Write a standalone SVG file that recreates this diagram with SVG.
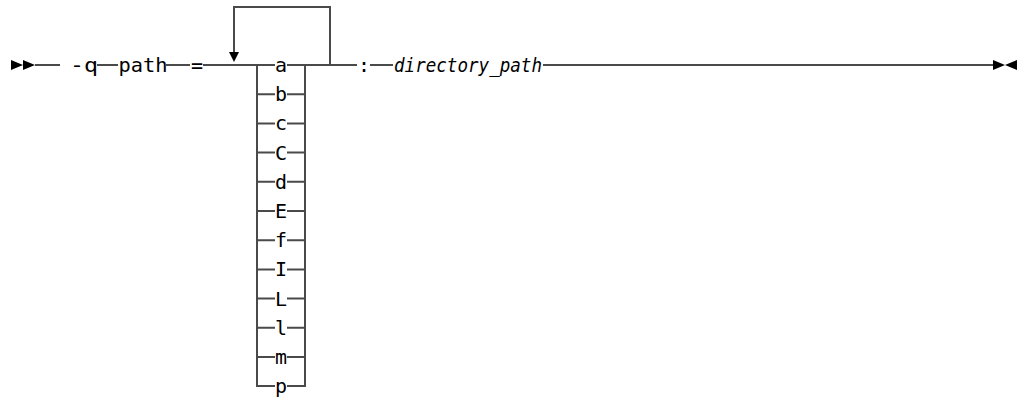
<svg xmlns="http://www.w3.org/2000/svg" width="1021" height="397" viewBox="0 0 1021 397">
<style>
.ln{stroke:#4a4a4a;stroke-width:2;fill:none}
.t{font-family:"DejaVu Sans Mono","Liberation Mono",monospace;font-size:20px;fill:#000;text-anchor:middle}
.s{text-anchor:start}
.v{font-style:italic}
.mk{fill:#000}
</style>
<rect width="1021" height="397" fill="#fff"/>
<g id="connectors">
<path class="ln" d="M35 65H60M97 65H118M166 65H190M203 65H257M305 65H357M370 65H393M543 65H993"/>
<path class="ln" d="M305 65H330V7H234V53"/>
<path class="mk" d="M229 52H239L234 62Z"/>
<path class="ln" d="M257 65V386H275M305 65V386H287"/>
<path class="ln" d="M257 94.2H275M287 94.2H305M257 123.4H275M287 123.4H305M257 152.6H275M287 152.6H305M257 181.8H275M287 181.8H305M257 211H275M287 211H305M257 240.2H275M287 240.2H305M257 269.4H275M287 269.4H305M257 298.6H275M287 298.6H305M257 327.8H275M287 327.8H305M257 357H275M287 357H305M257 65H275M287 65H305"/>
</g>
<g id="start"><path class="mk" d="M11 60L23 65L11 70ZM23 60L35 65L23 70Z"/></g>
<g id="end"><path class="mk" d="M993 60L1005 65L993 70ZM1017 60L1005 65L1017 70Z"/></g>
<g id="opt-q"><text class="t s" x="70" y="72" textLength="28" lengthAdjust="spacingAndGlyphs">-q</text></g>
<g id="kw-path"><text class="t s" x="118.5" y="72" textLength="49" lengthAdjust="spacingAndGlyphs">path</text></g>
<g id="eq"><text class="t" x="197" y="72">=</text></g>
<g id="choices">
<text class="t" x="281" y="72">a</text>
<text class="t" x="281" y="101.2">b</text>
<text class="t" x="281" y="130.4">c</text>
<text class="t" x="281" y="159.6">C</text>
<text class="t" x="281" y="188.8">d</text>
<text class="t" x="281" y="218">E</text>
<text class="t" x="281" y="247.2">f</text>
<text class="t" x="281" y="276.4">I</text>
<text class="t" x="281" y="305.6">L</text>
<text class="t" x="281" y="334.8">l</text>
<text class="t" x="281" y="364">m</text>
<text class="t" x="281" y="393.2">p</text>
</g>
<g id="colon"><text class="t" x="364" y="72">:</text></g>
<g id="var-dir"><text class="t s v" x="394" y="72" textLength="148" lengthAdjust="spacingAndGlyphs">directory_path</text></g>
</svg>
